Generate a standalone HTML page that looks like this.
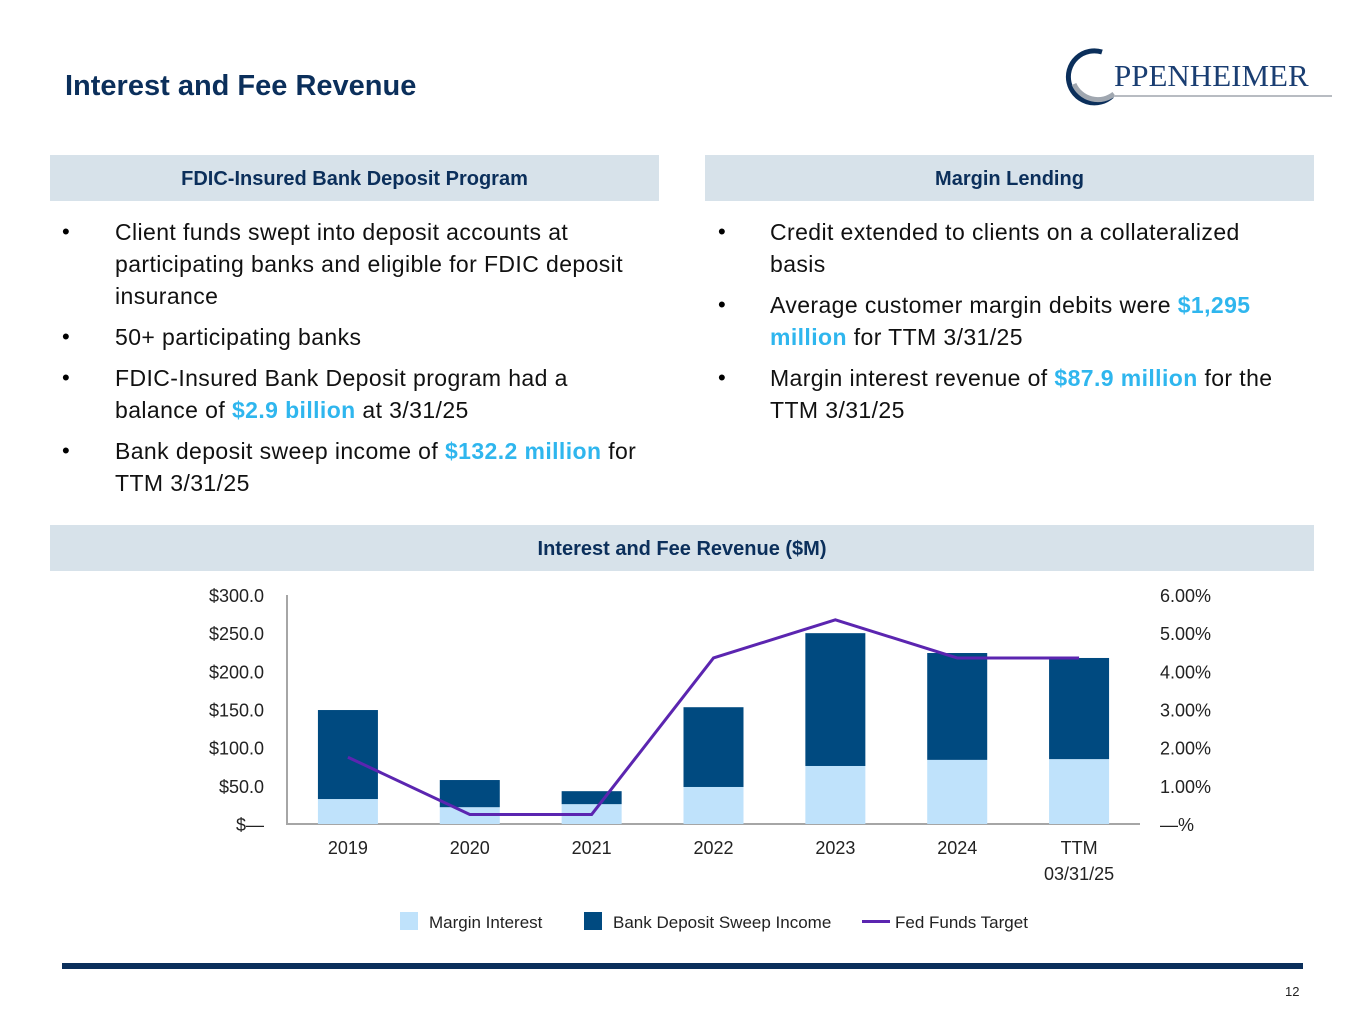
<!DOCTYPE html>
<html><head><meta charset="utf-8"><style>
body{margin:0;width:1365px;height:1024px;background:#fff;position:relative;overflow:hidden;font-family:"Liberation Sans",sans-serif}
.a{position:absolute;white-space:nowrap}
.t{font-size:23px;color:#111;line-height:32px;letter-spacing:0.4px}
.b{font-size:22px;line-height:32px}
.h{background:#d7e2ea;color:#0b2f5b;font-weight:bold;font-size:20px;text-align:center;line-height:48px}
.hl{color:#2fb6ee;font-weight:bold}
</style></head><body>
<div class="a" style="left:65px;top:70px;font-size:29px;font-weight:bold;color:#0b2f5b">Interest and Fee Revenue</div>
<svg class="a" style="left:1062px;top:44px" width="285" height="62">
<path d="M40 8 A26 26 0 1 0 50 52" fill="none" stroke="#0b2f5b" stroke-width="5"/>
<path d="M12 40 A26 26 0 0 0 52 50" fill="none" stroke="#a0a7b0" stroke-width="5"/>
<text x="52" y="42" style="font-family:'Liberation Serif',serif" font-size="31" fill="#1a3e72">PPENHEIMER</text>
<line x1="52" y1="52" x2="270" y2="52" stroke="#b8bcc2" stroke-width="2"/>
</svg>
<div class="a h" style="left:50px;top:155px;width:609px;height:46px">FDIC-Insured Bank Deposit Program</div>
<div class="a h" style="left:705px;top:155px;width:609px;height:46px">Margin Lending</div>
<div>
<div class="a b" style="left:62px;top:216px">•</div>
<div class="a t" style="left:115px;top:216px">Client funds swept into deposit accounts at</div>
<div class="a t" style="left:115px;top:248px">participating banks and eligible for FDIC deposit</div>
<div class="a t" style="left:115px;top:280px">insurance</div>
<div class="a b" style="left:62px;top:321px">•</div>
<div class="a t" style="left:115px;top:321px">50+ participating banks</div>
<div class="a b" style="left:62px;top:362px">•</div>
<div class="a t" style="left:115px;top:362px">FDIC-Insured Bank Deposit program had a</div>
<div class="a t" style="left:115px;top:394px">balance of <span class="hl">$2.9 billion</span> at 3/31/25</div>
<div class="a b" style="left:62px;top:435px">•</div>
<div class="a t" style="left:115px;top:435px">Bank deposit sweep income of <span class="hl">$132.2 million</span> for</div>
<div class="a t" style="left:115px;top:467px">TTM 3/31/25</div>
</div>
<div>
<div class="a b" style="left:718px;top:216px">•</div>
<div class="a t" style="left:770px;top:216px">Credit extended to clients on a collateralized</div>
<div class="a t" style="left:770px;top:248px">basis</div>
<div class="a b" style="left:718px;top:289px">•</div>
<div class="a t" style="left:770px;top:289px">Average customer margin debits were <span class="hl">$1,295</span></div>
<div class="a t" style="left:770px;top:321px"><span class="hl">million</span> for TTM 3/31/25</div>
<div class="a b" style="left:718px;top:362px">•</div>
<div class="a t" style="left:770px;top:362px">Margin interest revenue of <span class="hl">$87.9 million</span> for the</div>
<div class="a t" style="left:770px;top:394px">TTM 3/31/25</div>
</div>
<div class="a h" style="left:50px;top:525px;width:1264px;height:46px">Interest and Fee Revenue ($M)</div>
<svg class="a" id="chart" style="left:0;top:0;font-family:'Liberation Sans',sans-serif" width="1365" height="1024"></svg>
<div class="a" style="left:62px;top:963px;width:1241px;height:6px;background:#0b2f5b"></div>
<div class="a" style="left:1285px;top:984px;font-size:13px;color:#222">12</div>
<script>
const categories=["2019","2020","2021","2022","2023","2024","TTM|03/31/25"];
const marginInterest=[32.7,22,26,48.5,76,84,85];
const sweepIncome=[116.6,35.6,17,104.5,174,140,132.5];
const fedFunds=[1.75,0.25,0.25,4.35,5.35,4.35,4.35];
const leftTicks=["$—","$50.0","$100.0","$150.0","$200.0","$250.0","$300.0"];
const rightTicks=["—%","1.00%","2.00%","3.00%","4.00%","5.00%","6.00%"];
const NS="http://www.w3.org/2000/svg";
const svg=document.getElementById('chart');
const X0=287,X1=1140,Y0=824,Y1=595,bw=60;
const band=(X1-X0)/categories.length;
const xc=i=>X0+(i+0.5)*band;
const yL=v=>Y0-(v/300)*(Y0-Y1);
const yR=v=>Y0-(v/6)*(Y0-Y1);
function mk(t,a){const e=document.createElementNS(NS,t);for(const k in a)e.setAttribute(k,a[k]);svg.appendChild(e);return e;}
let ax=mk('path',{d:`M${X0} ${Y1} V${Y0} H${X1}`,fill:'none',stroke:'#a6a6a6','stroke-width':2});


leftTicks.forEach((t,i)=>{const e=mk('text',{x:264,y:yL(i*50)+7,'text-anchor':'end','font-size':18,fill:'#222'});e.textContent=t;

});
rightTicks.forEach((t,i)=>{const e=mk('text',{x:1160,y:yR(i)+7,'font-size':18,fill:'#222'});e.textContent=t;

});
categories.forEach((c,i)=>{
 const m=marginInterest[i],s=sweepIncome[i];
 const r1=mk('rect',{x:xc(i)-bw/2,y:yL(m),width:bw,height:Y0-yL(m),fill:'#bfe2fb'});
 
 
 const r2=mk('rect',{x:xc(i)-bw/2,y:yL(m+s),width:bw,height:yL(m)-yL(m+s),fill:'#004a80'});
 
 
 c.split('|').forEach((ln,j)=>{const e=mk('text',{x:xc(i),y:854+j*26,'text-anchor':'middle','font-size':18,fill:'#222'});e.textContent=ln;
 
 });
});
const pl=mk('polyline',{points:fedFunds.map((v,i)=>`${xc(i)},${yR(v)}`).join(' '),fill:'none',stroke:'#5b25b0','stroke-width':3});


const lg=[['rect','#bfe2fb','Margin Interest',400],['rect','#004a80','Bank Deposit Sweep Income',584],['line','#5b25b0','Fed Funds Target',862]];
lg.forEach(([k,c,t,x])=>{
 if(k==='rect')mk('rect',{x:x,y:912,width:18,height:18,fill:c});else mk('rect',{x:x,y:920,width:28,height:3,fill:c});
 const e=mk('text',{x:x+(k==='rect'?29:33),y:928,'font-size':17,fill:'#222'});e.textContent=t;
 
 
});
</script>
</body></html>
